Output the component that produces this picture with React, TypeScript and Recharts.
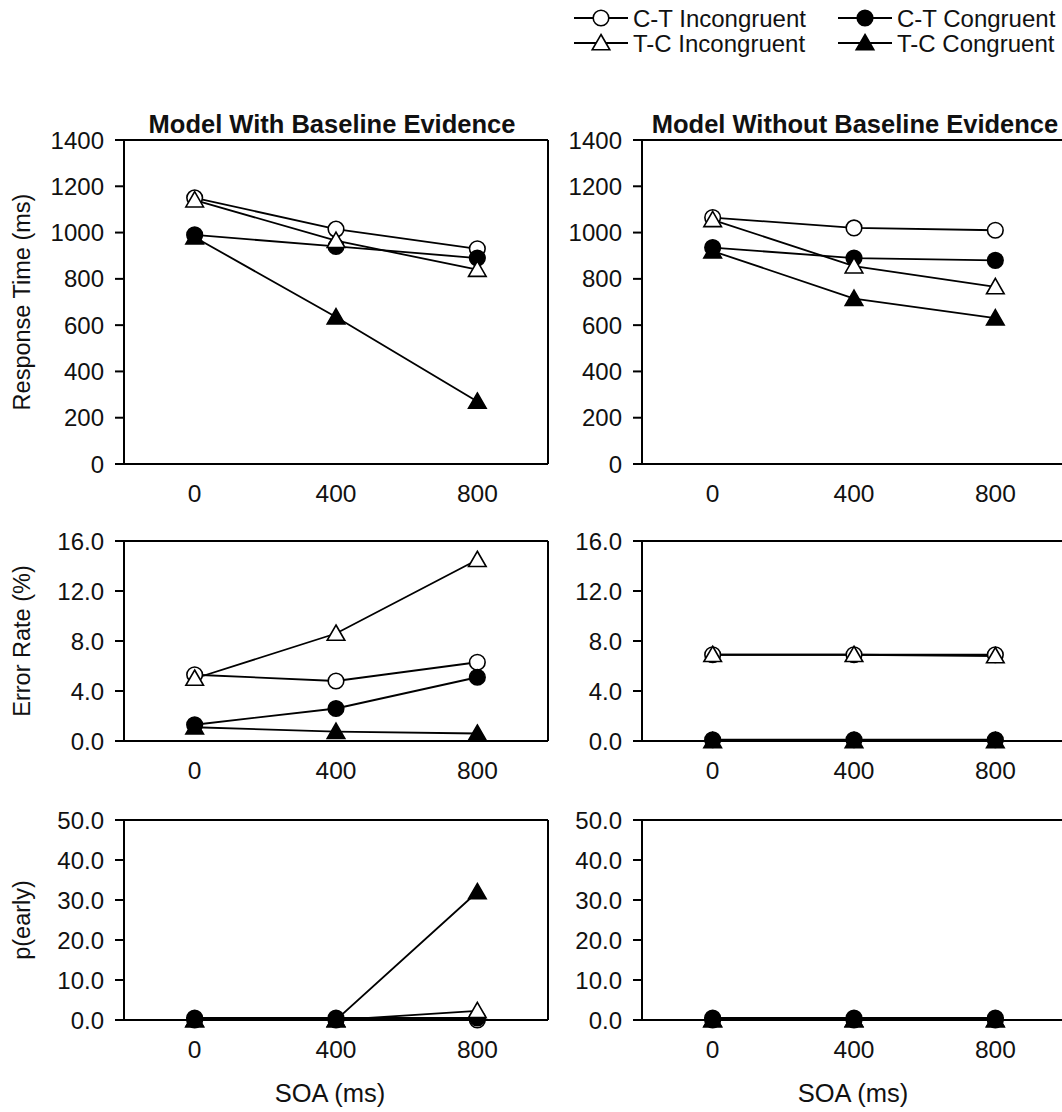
import React from "react";
import { LineChart, Line, XAxis, YAxis, ReferenceLine, Label } from "recharts";

const FONT = '"Liberation Sans", Arial, Helvetica, sans-serif';

const soa = [0, 400, 800];

// response time (ms)
const rtWithCtInc = [1150, 1015, 930];
const rtWithCtCon = [990, 940, 890];
const rtWithTcInc = [1140, 965, 840];
const rtWithTcCon = [980, 635, 270];
const rtWithoutCtInc = [1065, 1020, 1010];
const rtWithoutCtCon = [935, 890, 880];
const rtWithoutTcInc = [1055, 855, 765];
const rtWithoutTcCon = [920, 715, 630];

// error rate (%)
const erWithCtInc = [5.3, 4.8, 6.3];
const erWithCtCon = [1.3, 2.6, 5.1];
const erWithTcInc = [5.0, 8.6, 14.5];
const erWithTcCon = [1.1, 0.75, 0.6];
const erWithoutCtInc = [6.9, 6.9, 6.9];
const erWithoutCtCon = [0.1, 0.1, 0.1];
const erWithoutTcInc = [6.9, 6.9, 6.8];
const erWithoutTcCon = [0.0, 0.0, 0.0];

// p(early)
const peWithCtInc = [0.0, 0.0, 0.0];
const peWithCtCon = [0.5, 0.5, 0.5];
const peWithTcInc = [0.0, 0.0, 2.3];
const peWithTcCon = [0.0, 0.0, 32.0];
const peWithoutCtInc = [0.0, 0.0, 0.0];
const peWithoutCtCon = [0.5, 0.5, 0.5];
const peWithoutTcInc = [0.0, 0.0, 0.0];
const peWithoutTcCon = [0.0, 0.0, 0.0];

const rtTicks = [0, 200, 400, 600, 800, 1000, 1200, 1400];
const erTicks = [0, 4, 8, 12, 16];
const peTicks = [0, 10, 20, 30, 40, 50];
const xBounds = [-200, 200, 600, 1000];

const titles = ["Model With Baseline Evidence", "Model Without Baseline Evidence"];

const series = [
  { key: "ctInc", name: "C-T Incongruent", shape: "circle", filled: false },
  { key: "ctCon", name: "C-T Congruent", shape: "circle", filled: true },
  { key: "tcInc", name: "T-C Incongruent", shape: "triangle", filled: false },
  { key: "tcCon", name: "T-C Congruent", shape: "triangle", filled: true },
];

const rowsOf = (ctInc: number[], ctCon: number[], tcInc: number[], tcCon: number[]) =>
  soa.map((s, i) => ({ soa: s, ctInc: ctInc[i], ctCon: ctCon[i], tcInc: tcInc[i], tcCon: tcCon[i] }));

function Marker({ cx, cy, shape, filled }: any) {
  if (cx == null || cy == null) return null;
  const fill = filled ? "#000" : "#fff";
  if (shape === "circle") {
    return <circle cx={cx} cy={cy} r={7.8} fill={fill} stroke="#000" strokeWidth={1.6} />;
  }
  return (
    <path
      d={`M${cx},${cy - 8.5} L${cx + 8.8},${cy + 6.8} L${cx - 8.8},${cy + 6.8} Z`}
      fill={fill}
      stroke="#000"
      strokeWidth={1.6}
    />
  );
}

const axisStroke = { stroke: "#000", strokeWidth: 2 };
const yTickText = { fontSize: 24, fill: "#111", fontFamily: FONT };
const xTickText = { fontSize: 24.5, fill: "#111", fontFamily: FONT };

function Panel({ plotX, plotY, plotH, rows, yMax, yTicks, fmt, yLabel, xLabel, xLabelX }: any) {
  const W = 124 + 424 + 10;
  const H = 20 + plotH + 100;
  return (
    <div style={{ position: "absolute", left: plotX - 124, top: plotY - 20 }}>
      <LineChart width={W} height={H} data={rows} margin={{ top: 20, right: 10, left: 0, bottom: 0 }}>
        <XAxis
          xAxisId="f"
          dataKey="soa"
          type="number"
          domain={[-200, 1000]}
          ticks={xBounds}
          interval={0}
          tick={false}
          tickSize={9}
          height={9}
          axisLine={axisStroke}
          tickLine={axisStroke}
        />
        <XAxis
          xAxisId="lab"
          dataKey="soa"
          type="number"
          domain={[-200, 1000]}
          ticks={soa}
          interval={0}
          axisLine={false}
          tickLine={false}
          tickSize={0}
          tickMargin={12}
          height={91}
          tick={xTickText}
        >
          {xLabel && (
            <Label
              content={({ viewBox }: any) => (
                <text x={xLabelX} y={viewBox.y + 73} textAnchor="middle" fontSize={25.5} fill="#111" fontFamily={FONT}>
                  SOA (ms)
                </text>
              )}
            />
          )}
        </XAxis>
        <YAxis
          type="number"
          domain={[0, yMax]}
          ticks={yTicks}
          interval={0}
          width={124}
          tickSize={9}
          tickMargin={11}
          axisLine={axisStroke}
          tickLine={axisStroke}
          tick={yTickText}
          tickFormatter={fmt}
        >
          {yLabel && (
            <Label
              content={({ viewBox }: any) => {
                const cy = viewBox.y + viewBox.height / 2;
                return (
                  <text
                    x={29.5}
                    y={cy}
                    transform={`rotate(-90, 29.5, ${cy})`}
                    textAnchor="middle"
                    fontSize={23.5}
                    fill="#111"
                    fontFamily={FONT}
                  >
                    {yLabel}
                  </text>
                );
              }}
            />
          )}
        </YAxis>
        <ReferenceLine xAxisId="f" y={yMax} stroke="#000" strokeWidth={2} />
        <ReferenceLine xAxisId="f" x={1000} stroke="#000" strokeWidth={2} />
        {series.map((s) => (
          <Line
            key={s.key}
            xAxisId="f"
            dataKey={s.key}
            stroke="#000"
            strokeWidth={1.8}
            isAnimationActive={false}
            activeDot={false}
            dot={(p: any) => <Marker key={`${s.key}-${p.index}`} cx={p.cx} cy={p.cy} shape={s.shape} filled={s.filled} />}
          />
        ))}
      </LineChart>
    </div>
  );
}

const intFmt = (v: number) => String(v);
const decFmt = (v: number) => v.toFixed(1);

export default function App() {
  const legendCols = [574, 838];
  const legendRows = [18, 43];
  return (
    <div
      style={{
        position: "absolute",
        left: 0,
        top: 0,
        width: 1062,
        height: 1112,
        overflow: "hidden",
        background: "#fff",
        fontFamily: FONT,
      }}
    >
      <Panel plotX={124} plotY={140} plotH={324} rows={rowsOf(rtWithCtInc, rtWithCtCon, rtWithTcInc, rtWithTcCon)}
        yMax={1400} yTicks={rtTicks} fmt={intFmt} yLabel="Response Time (ms)" />
      <Panel plotX={642} plotY={140} plotH={324} rows={rowsOf(rtWithoutCtInc, rtWithoutCtCon, rtWithoutTcInc, rtWithoutTcCon)}
        yMax={1400} yTicks={rtTicks} fmt={intFmt} />
      <Panel plotX={124} plotY={541} plotH={200} rows={rowsOf(erWithCtInc, erWithCtCon, erWithTcInc, erWithTcCon)}
        yMax={16} yTicks={erTicks} fmt={decFmt} yLabel="Error Rate (%)" />
      <Panel plotX={642} plotY={541} plotH={200} rows={rowsOf(erWithoutCtInc, erWithoutCtCon, erWithoutTcInc, erWithoutTcCon)}
        yMax={16} yTicks={erTicks} fmt={decFmt} />
      <Panel plotX={124} plotY={820} plotH={200} rows={rowsOf(peWithCtInc, peWithCtCon, peWithTcInc, peWithTcCon)}
        yMax={50} yTicks={peTicks} fmt={decFmt} yLabel="p(early)" xLabel xLabelX={330} />
      <Panel plotX={642} plotY={820} plotH={200} rows={rowsOf(peWithoutCtInc, peWithoutCtCon, peWithoutTcInc, peWithoutTcCon)}
        yMax={50} yTicks={peTicks} fmt={decFmt} xLabel xLabelX={335} />

      <svg width={1062} height={1112} style={{ position: "absolute", left: 0, top: 0, pointerEvents: "none" }}>
        <text x={332} y={133} textAnchor="middle" fontSize={25.5} fontWeight="bold" fill="#111" fontFamily={FONT}>
          {titles[0]}
        </text>
        <text x={855} y={133} textAnchor="middle" fontSize={25.5} fontWeight="bold" fill="#111" fontFamily={FONT}>
          {titles[1]}
        </text>
        {series.map((s, i) => {
          const x0 = legendCols[i % 2];
          const y0 = legendRows[Math.floor(i / 2)];
          return (
            <g key={s.key}>
              <line x1={x0} y1={y0} x2={x0 + 54} y2={y0} stroke="#000" strokeWidth={1.8} />
              <Marker cx={x0 + 27} cy={y0} shape={s.shape} filled={s.filled} />
              <text x={x0 + 59} y={y0 + 8.5} fontSize={24} fill="#111" fontFamily={FONT}>
                {s.name}
              </text>
            </g>
          );
        })}
      </svg>
    </div>
  );
}
